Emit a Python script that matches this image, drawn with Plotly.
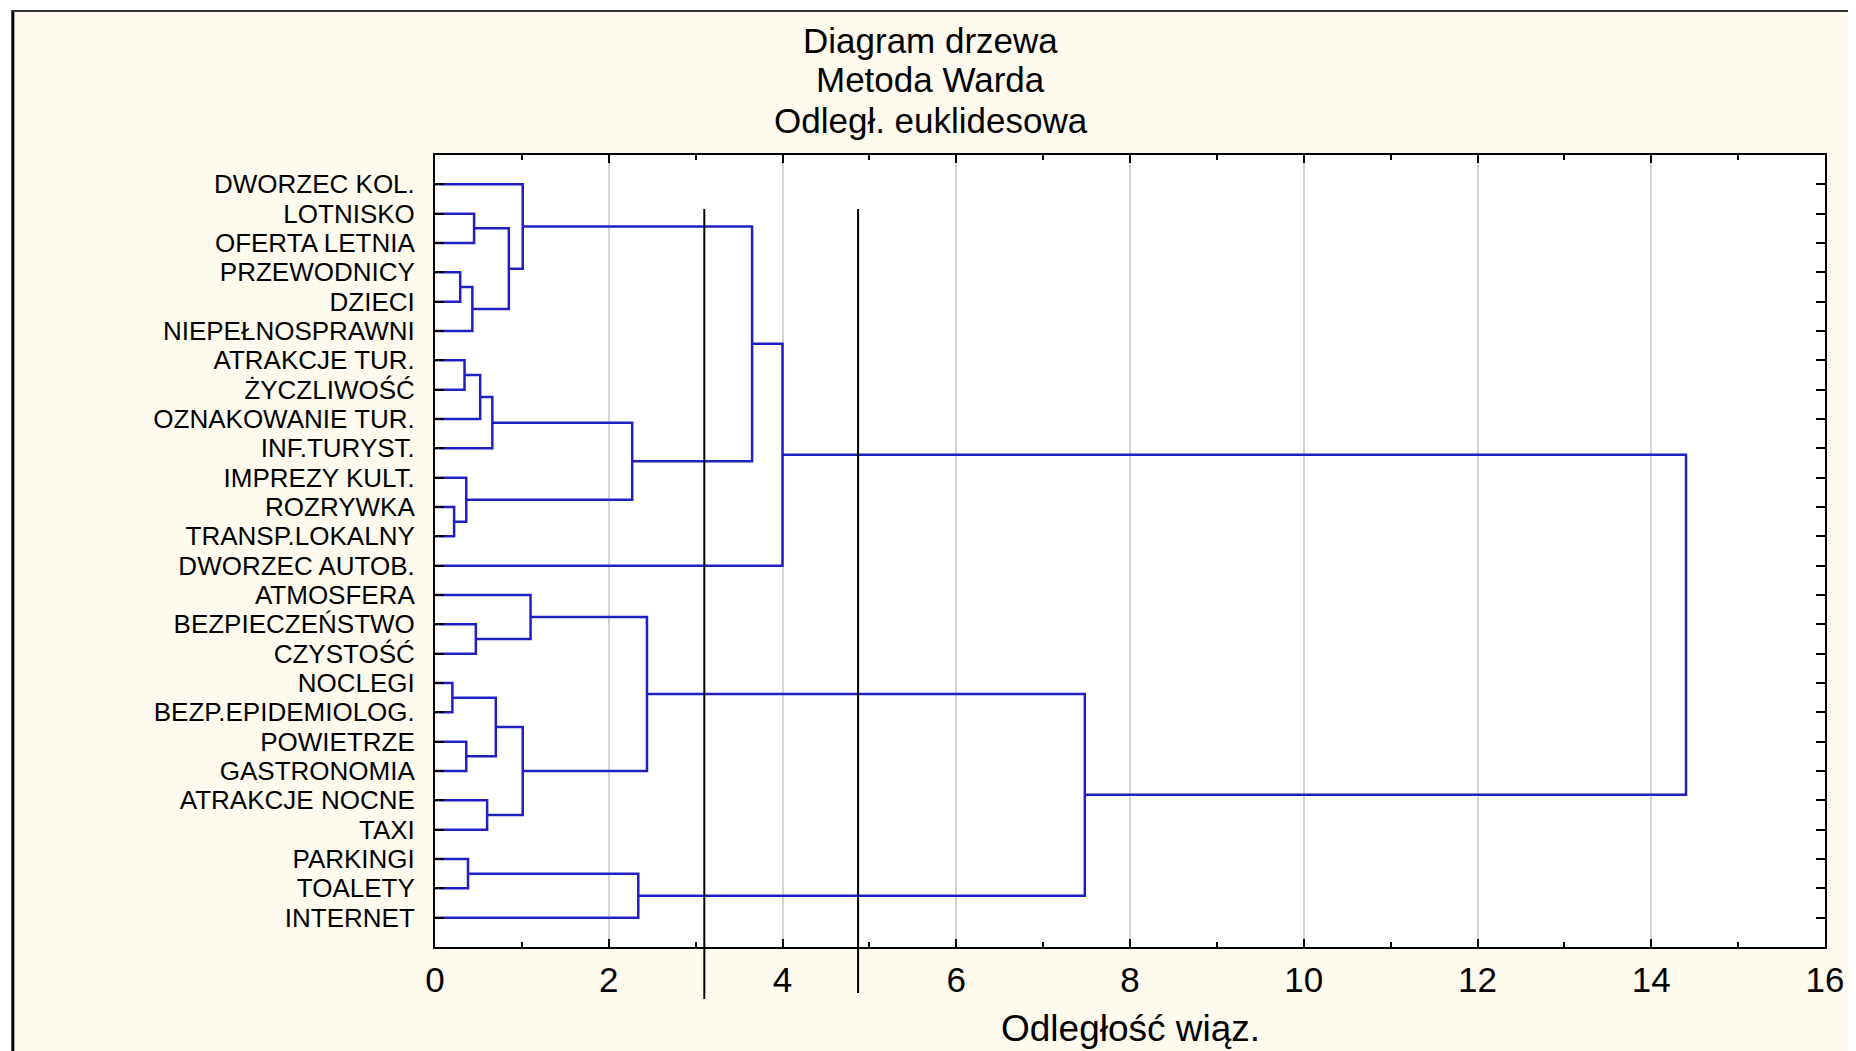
import plotly.graph_objects as go

# ---------------- data ----------------
leaf_labels = [
    "DWORZEC KOL.", "LOTNISKO", "OFERTA LETNIA", "PRZEWODNICY", "DZIECI",
    "NIEPEŁNOSPRAWNI", "ATRAKCJE TUR.", "ŻYCZLIWOŚĆ", "OZNAKOWANIE TUR.",
    "INF.TURYST.", "IMPREZY KULT.", "ROZRYWKA", "TRANSP.LOKALNY",
    "DWORZEC AUTOB.", "ATMOSFERA", "BEZPIECZEŃSTWO", "CZYSTOŚĆ", "NOCLEGI",
    "BEZP.EPIDEMIOLOG.", "POWIETRZE", "GASTRONOMIA", "ATRAKCJE NOCNE", "TAXI",
    "PARKINGI", "TOALETY", "INTERNET",
]
# linkage: new cluster ids start at len(leaf_labels)
merge_left = [11, 17, 3, 6, 10, 19, 23, 28, 1, 15, 29, 21, 36, 27, 34, 0, 39, 14, 38, 32, 43, 41, 47, 46, 48]
merge_right = [12, 18, 4, 7, 26, 20, 24, 5, 2, 16, 8, 22, 9, 31, 33, 40, 37, 35, 30, 25, 42, 44, 13, 45, 49]
merge_height = [0.22, 0.20, 0.29, 0.34, 0.36, 0.36, 0.38, 0.43, 0.45, 0.47, 0.52, 0.60, 0.66, 0.70,
                0.85, 1.01, 1.01, 1.10, 2.27, 2.34, 2.44, 3.65, 4.00, 7.48, 14.40]
cut_levels = [3.10, 4.87]
x_tick_values = [0, 2, 4, 6, 8, 10, 12, 14, 16]

title_lines = ["Diagram drzewa", "Metoda Warda", "Odległ. euklidesowa"]
x_title = "Odległość wiąz."

# ---------------- layout geometry ----------------
# page body has an 8px margin, so the figure is offset by 8px on screen
OFF = 8
W, H = 1856 - OFF, 1051 - OFF
ML, MR, MT, MB = 435 - OFF, 1856 - 1831, 155 - OFF, 1051 - 947
PW, PH = W - ML - MR, H - MT - MB


def sx(px):  # screen x -> paper x
    return (px - OFF - ML) / PW


def sy(py):  # screen y -> paper y
    return (H - MB - (py - OFF)) / PH


FONT = "Liberation Sans, Arial, sans-serif"
BLUE = "#2020c0"

# ---------------- dendrogram path ----------------
n = len(leaf_labels)
ypos = {i: i + 1 for i in range(n)}
xpos = {i: 0.0 for i in range(n)}
xs, ys = [], []
for k, (a, b, h) in enumerate(zip(merge_left, merge_right, merge_height)):
    ya, yb = ypos[a], ypos[b]
    xs += [xpos[a], h, h, xpos[b], None]
    ys += [ya, ya, yb, yb, None]
    ypos[n + k] = (ya + yb) / 2
    xpos[n + k] = h

fig = go.Figure()
fig.add_trace(go.Scatter(x=xs, y=ys, mode="lines",
                         line=dict(color=BLUE, width=2.5),
                         hoverinfo="skip", showlegend=False))

shapes = []
# white strips outside the frame, and frame lines
shapes.append(dict(type="rect", xref="paper", yref="paper", layer="below",
                   x0=sx(0), x1=sx(10), y0=sy(1060), y1=sy(0),
                   fillcolor="white", line=dict(width=0)))
shapes.append(dict(type="rect", xref="paper", yref="paper", layer="below",
                   x0=sx(0), x1=sx(1870), y0=sy(10), y1=sy(0),
                   fillcolor="white", line=dict(width=0)))
shapes.append(dict(type="line", xref="paper", yref="paper",
                   x0=sx(11), x1=sx(11), y0=sy(1060), y1=sy(10),
                   line=dict(color="black", width=3)))
shapes.append(dict(type="line", xref="paper", yref="paper",
                   x0=sx(10), x1=sx(1870), y0=sy(11), y1=sy(11),
                   line=dict(color="#333333", width=2)))
# cut lines
cut_bottoms = [999, 993]
for c, bot in zip(cut_levels, cut_bottoms):
    shapes.append(dict(type="line", xref="x", yref="paper",
                       x0=c, x1=c, y0=sy(bot), y1=sy(209),
                       line=dict(color="black", width=2)))

annotations = []
for i, t in enumerate(title_lines):
    annotations.append(dict(text=t, xref="paper", yref="paper",
                            x=sx(933), y=sy(40 + 40 * i),
                            xanchor="center", yanchor="middle", showarrow=False,
                            font=dict(family=FONT, size=35, color="black")))
annotations.append(dict(text=x_title, xref="paper", yref="paper",
                        x=0.5, y=sy(1028), xanchor="center", yanchor="middle",
                        showarrow=False, font=dict(family=FONT, size=37, color="black")))

fig.update_layout(
    width=W, height=H,
    margin=dict(l=ML, r=MR, t=MT, b=MB, pad=0),
    paper_bgcolor="#fffaee",
    plot_bgcolor="white",
    shapes=shapes,
    annotations=annotations,
    showlegend=False,
)
fig.update_xaxes(
    range=[0, 16], tickvals=x_tick_values, ticktext=[str(v) for v in x_tick_values],
    showgrid=True, gridcolor="#d4d4d4", gridwidth=2,
    showline=True, linecolor="black", linewidth=2, mirror="ticks",
    ticks="inside", ticklen=8, tickwidth=2, tickcolor="black",
    minor=dict(dtick=1, tick0=0, ticks="inside", ticklen=5, tickwidth=2, tickcolor="black", showgrid=False),
    zeroline=False, ticklabelstandoff=1,
    tickfont=dict(family=FONT, size=35, color="black"),
)
fig.update_yaxes(
    range=[len(leaf_labels) + 1, 0],
    tickvals=list(range(1, n + 1)), ticktext=leaf_labels,
    showgrid=False, zeroline=False,
    showline=True, linecolor="black", linewidth=2, mirror="ticks",
    ticks="inside", ticklen=9, tickwidth=2, tickcolor="black",
    ticklabelstandoff=13,
    tickfont=dict(family=FONT, size=26, color="black"),
)

fig.write_html("out.html")
